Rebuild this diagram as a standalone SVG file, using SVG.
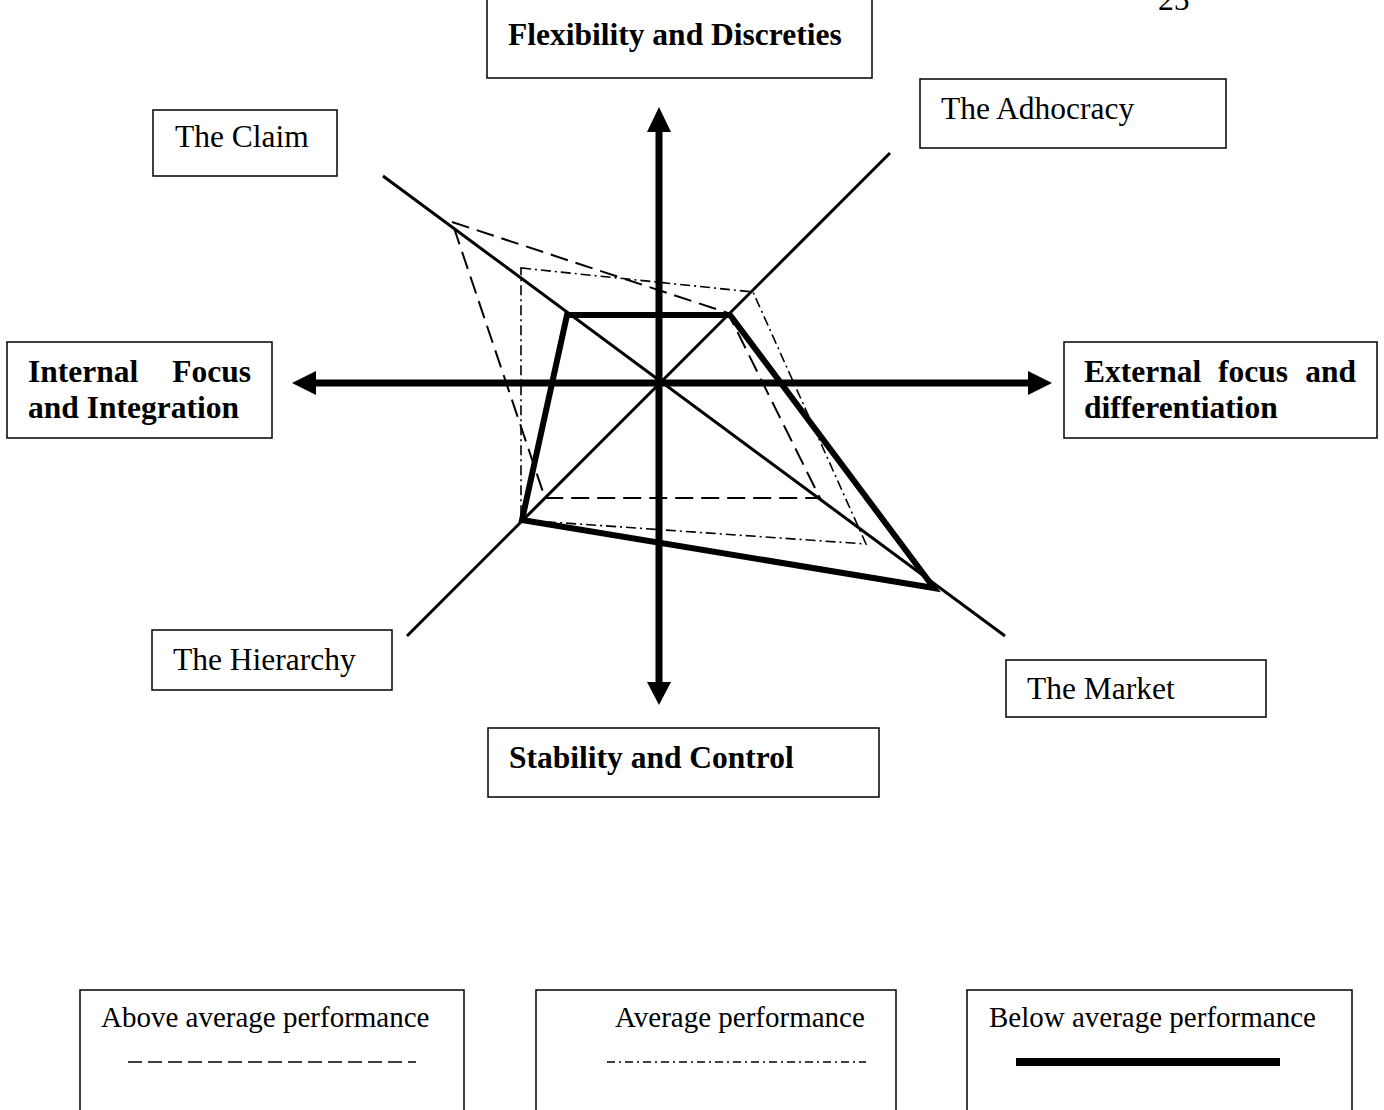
<svg xmlns="http://www.w3.org/2000/svg" width="1384" height="1110" viewBox="0 0 1384 1110">
<style>
.box{fill:#fff;stroke:#000;stroke-width:1.5}
.t{font-family:"Liberation Serif","Times New Roman",serif;font-size:31.5px;fill:#000}
.b{font-weight:bold}
.lg{font-family:"Liberation Serif","Times New Roman",serif;font-size:29px;fill:#000}
.diag{stroke:#000;stroke-width:3;fill:none}
.below{stroke:#000;stroke-width:6;fill:none;stroke-linejoin:miter}
.above{stroke:#000;stroke-width:2;fill:none;stroke-dasharray:18,8}
.avg{stroke:#000;stroke-width:1.6;fill:none;stroke-dasharray:10,4,2,4}
.axis{stroke:#000;stroke-width:7;fill:none}
</style>
<rect width="1384" height="1110" fill="#fff"/>
<text class="t" x="1158" y="10">25</text>

<g id="connectors">
  <line class="diag" x1="383" y1="176" x2="1005" y2="636"/>
  <line class="diag" x1="407" y1="636" x2="890" y2="153"/>
  <polygon class="above" points="452,222 728,313 820,498 545,498"/>
  <polygon class="avg" points="521,268 753,292 866,544 521,520"/>
  <polygon class="below" points="567,315 730,315 934,588 522,520"/>
  <line class="axis" x1="659" y1="128" x2="659" y2="685"/>
  <line class="axis" x1="313" y1="383" x2="1031" y2="383"/>
  <polygon points="659,107 647,132 671,132" fill="#000"/>
  <polygon points="659,705 647,682 671,682" fill="#000"/>
  <polygon points="292,383 316,371 316,395" fill="#000"/>
  <polygon points="1052,383 1028,371 1028,395" fill="#000"/>
</g>

<g id="flexibility">
  <rect class="box" x="487" y="-10" width="385" height="88"/>
  <text class="t b" x="508" y="45">Flexibility and Discreties</text>
</g>
<g id="adhocracy">
  <rect class="box" x="920" y="79" width="306" height="69"/>
  <text class="t" x="941" y="119">The Adhocracy</text>
</g>
<g id="claim">
  <rect class="box" x="153" y="110" width="184" height="66"/>
  <text class="t" x="175" y="147">The Claim</text>
</g>
<g id="internal">
  <rect class="box" x="7" y="342" width="265" height="96"/>
  <text class="t b" x="28" y="382">Internal</text>
  <text class="t b" x="251" y="382" text-anchor="end">Focus</text>
  <text class="t b" x="28" y="418">and Integration</text>
</g>
<g id="external">
  <rect class="box" x="1064" y="342" width="313" height="96"/>
  <text class="t b" x="1084" y="382">External</text>
  <text class="t b" x="1218" y="382">focus</text>
  <text class="t b" x="1356" y="382" text-anchor="end">and</text>
  <text class="t b" x="1084" y="418">differentiation</text>
</g>
<g id="hierarchy">
  <rect class="box" x="152" y="630" width="240" height="60"/>
  <text class="t" x="173" y="670">The Hierarchy</text>
</g>
<g id="market">
  <rect class="box" x="1006" y="660" width="260" height="57"/>
  <text class="t" x="1027" y="699">The Market</text>
</g>
<g id="stability">
  <rect class="box" x="488" y="728" width="391" height="69"/>
  <text class="t b" x="509" y="768">Stability and Control</text>
</g>

<g id="legend-above">
  <rect class="box" x="80" y="990" width="384" height="130"/>
  <text class="lg" x="101" y="1027">Above average performance</text>
  <line x1="128" y1="1062" x2="416" y2="1062" stroke="#000" stroke-width="1.6" stroke-dasharray="14,6"/>
</g>
<g id="legend-average">
  <rect class="box" x="536" y="990" width="360" height="130"/>
  <text class="lg" x="615" y="1027">Average performance</text>
  <line x1="607" y1="1062" x2="866" y2="1062" stroke="#000" stroke-width="1.6" stroke-dasharray="8,4,2,4"/>
</g>
<g id="legend-below">
  <rect class="box" x="967" y="990" width="385" height="130"/>
  <text class="lg" x="989" y="1027">Below average performance</text>
  <line x1="1016" y1="1062" x2="1280" y2="1062" stroke="#000" stroke-width="8"/>
</g>
</svg>
